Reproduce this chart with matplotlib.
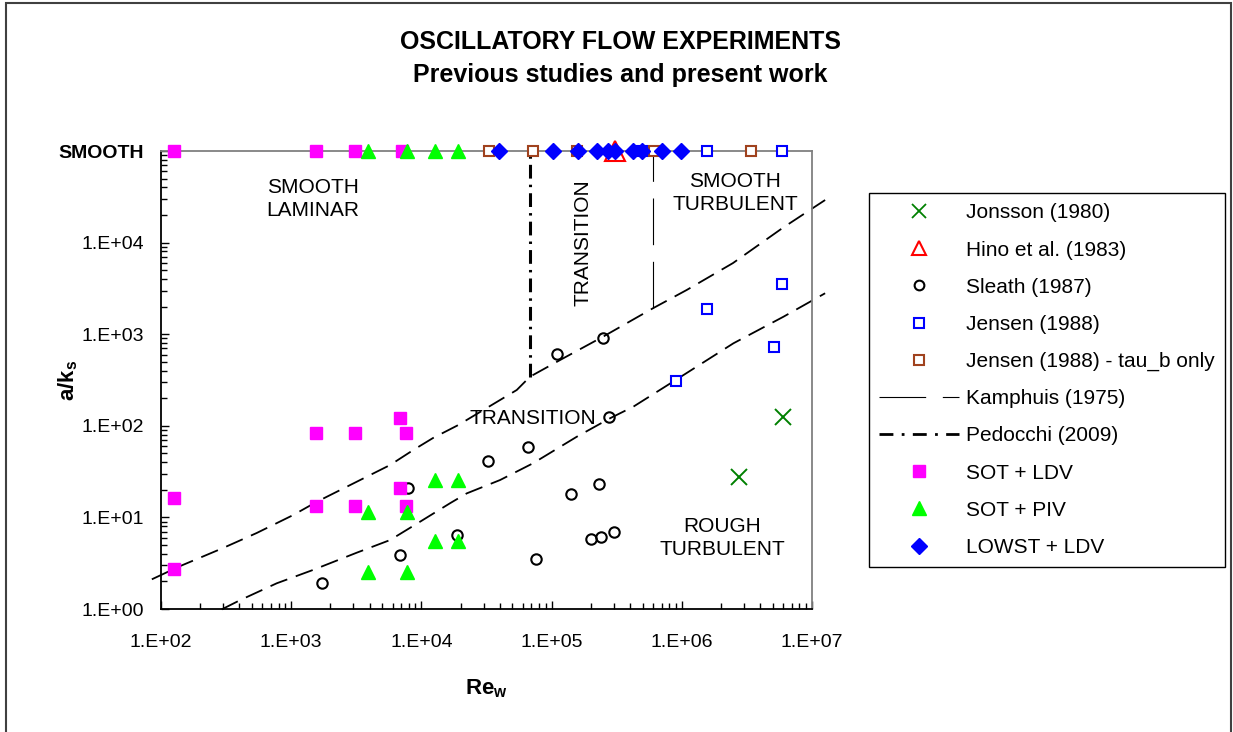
import matplotlib
matplotlib.use("Agg")
import matplotlib.pyplot as plt
from matplotlib.lines import Line2D
from matplotlib.patches import Rectangle
from matplotlib.ticker import NullFormatter

plt.rcParams.update({
    "font.family": ["Liberation Sans", "DejaVu Sans"],
    "mathtext.fontset": "custom",
    "mathtext.rm": "Liberation Sans",
    "mathtext.bf": "Liberation Sans:bold",
    "mathtext.it": "Liberation Sans:italic",
})

SMOOTH = 1e5  # "SMOOTH" row at top of the chart

# --- data (Re_w, a/ks) ---
sot_ldv_x = [126, 1549, 3090, 7080, 126, 126, 1549, 3090, 6840, 7590, 6840, 1549, 3090, 7590]
sot_ldv_y = [SMOOTH, SMOOTH, SMOOTH, SMOOTH, 16.3, 2.73, 83, 83, 123, 83, 21, 13.3, 13.3, 13.3]

sot_piv_x = [3870, 7740, 12700, 19100, 3870, 7740, 12700, 19100, 12700, 19100, 3870, 7740]
sot_piv_y = [SMOOTH, SMOOTH, SMOOTH, SMOOTH, 11.5, 11.5, 25.6, 25.6, 5.5, 5.5, 2.55, 2.55]

lowst_x = [39450, 102500, 159600, 223400, 271000, 306900, 421700, 494300, 704700, 986300]
lowst_y = [SMOOTH] * len(lowst_x)

jensen_tau_x = [33040, 71940, 156700, 610900, 3.40e6]
jensen_tau_y = [SMOOTH] * len(jensen_tau_x)

jensen_x = [494300, 1.56e6, 5.89e6, 5.89e6, 1.56e6, 5.13e6, 8.97e5]
jensen_y = [SMOOTH, SMOOTH, SMOOTH, 3530, 1885, 725, 311]

hino_x = [309000]
hino_y = [SMOOTH]

jonsson_x = [5.96e6, 2.77e6]
jonsson_y = [124, 27.8]

sleath_x = [1714, 6855, 7940, 18880, 32660, 66220, 75860, 110700, 140900,
            199500, 239300, 303400, 231200, 277300, 249500]
sleath_y = [1.94, 3.89, 20.8, 6.43, 41.6, 58, 3.49, 608, 17.9,
            5.77, 6.15, 6.98, 23, 124, 902]

# regime boundary curves
upper_x = [85, 140, 299, 543, 1033, 1570, 3000, 5740, 8670, 12270, 19190, 53950,
           68230, 115900, 248300, 601000, 1.09e6, 2.47e6, 5.98e6, 1.26e7]
upper_y = [2.11, 2.94, 4.63, 6.76, 10.6, 14.8, 23.5, 37.3, 54.5, 73.6, 102, 246,
           344, 522, 940, 1923, 3040, 5980, 14550, 29170]
lower_x = [292, 405, 774, 1469, 3184, 5740, 9750, 16600, 22280, 40180, 71940,
           156000, 281200, 424600, 855000, 2.49e6, 6.03e6, 1.26e7]
lower_y = [0.99, 1.25, 1.91, 2.67, 4.12, 5.66, 8.97, 14.3, 18.3, 25.6, 39.0,
           76.0, 121, 162, 303, 796, 1552, 2800]

pedocchi_x = [68230, 68230]
pedocchi_y = [344, SMOOTH]
kamphuis_x = [601000, 601000]
kamphuis_y = [1923, SMOOTH]

ytick_vals = [1, 10, 100, 1e3, 1e4, 1e5]
ytick_labels = ["1.E+00", "1.E+01", "1.E+02", "1.E+03", "1.E+04", "SMOOTH"]
xtick_vals = [1e2, 1e3, 1e4, 1e5, 1e6, 1e7]
xtick_labels = ["1.E+02", "1.E+03", "1.E+04", "1.E+05", "1.E+06", "1.E+07"]

fig = plt.figure(figsize=(12.33, 7.32), dpi=100)
ax = fig.add_axes([0.1306, 0.168, 0.528, 0.6257])
ax.set_xscale("log")
ax.set_yscale("log")
ax.set_xlim(1e2, 1e7)
ax.set_ylim(1, 1e5)

# boundary lines
ax.plot(upper_x, upper_y, color="black", lw=1.3, dashes=(10, 5), clip_on=False, zorder=2)
ax.plot(lower_x, lower_y, color="black", lw=1.3, dashes=(10, 5), clip_on=False, zorder=2)
ax.plot(pedocchi_x, pedocchi_y, color="black", lw=2.2, dashes=(4.5, 2, 0.8, 2), zorder=2)
ax.plot(kamphuis_x, kamphuis_y, color="black", lw=0.8, dashes=(42, 15), zorder=2)

# data series
ax.plot(jonsson_x, jonsson_y, ls="none", marker="x", ms=12, mew=1.4, color="#008000", zorder=4)
ax.plot(sleath_x, sleath_y, ls="none", marker="o", ms=7.5, mew=1.5, mfc="none", mec="black", zorder=4)
ax.plot(sot_ldv_x, sot_ldv_y, ls="none", marker="s", ms=8.5, color="#ff00ff", clip_on=False, zorder=4)
ax.plot(sot_piv_x, sot_piv_y, ls="none", marker="^", ms=10, color="#00ff00", clip_on=False, zorder=5)
ax.plot(jensen_tau_x, jensen_tau_y, ls="none", marker="s", ms=7.5, mew=1.5, mfc="white",
        mec="#a0421e", clip_on=False, zorder=4)
ax.plot(jensen_x, jensen_y, ls="none", marker="s", ms=7.5, mew=1.5, mfc="white",
        mec="#0000ff", clip_on=False, zorder=4)
ax.plot(hino_x, hino_y, ls="none", marker="^", ms=15, mew=1.5, mfc="none",
        mec="#ff0000", clip_on=False, zorder=5)
ax.plot(lowst_x, lowst_y, ls="none", marker="D", ms=8, color="#0000ff", clip_on=False, zorder=6)

# regime labels
txt = dict(fontsize=15, ha="center", va="center", transform=ax.transAxes, linespacing=1.25)
ax.text(0.2335, 0.895, "SMOOTH\nLAMINAR", **txt)
ax.text(0.648, 0.80, "TRANSITION", rotation=90, **txt)
ax.text(0.882, 0.908, "SMOOTH\nTURBULENT", **txt)
ax.text(0.571, 0.417, "TRANSITION", **txt)
ax.text(0.862, 0.155, "ROUGH\nTURBULENT", **txt)

# axes styling
ax.set_xticks(xtick_vals)
ax.set_xticklabels(xtick_labels)
ax.set_yticks(ytick_vals)
ax.set_yticklabels(ytick_labels)
ax.get_yticklabels()[-1].set_fontweight("bold")
ax.xaxis.set_minor_formatter(NullFormatter())
ax.yaxis.set_minor_formatter(NullFormatter())
ax.tick_params(which="both", direction="in", labelsize=14, width=1)
ax.tick_params(which="major", length=6)
ax.tick_params(which="minor", length=4)
ax.tick_params(axis="x", pad=18)
ax.tick_params(axis="y", pad=12)
ax.spines["left"].set_color("black")
ax.spines["bottom"].set_color("black")
ax.spines["top"].set_color("#808080")
ax.spines["right"].set_color("#808080")
for s in ax.spines.values():
    s.set_linewidth(1.3)

ax.set_xlabel(r"$\mathbf{Re_w}$", fontsize=16)
ax.set_ylabel(r"$\mathbf{a/k_s}$", fontsize=16)
ax.xaxis.set_label_coords(0.5, -0.15)
ax.yaxis.set_label_coords(-0.125, 0.5)

fig.text(0.503, 0.943, "OSCILLATORY FLOW EXPERIMENTS", fontsize=18, fontweight="bold",
         ha="center", va="center")
fig.text(0.503, 0.898, "Previous studies and present work", fontsize=18, fontweight="bold",
         ha="center", va="center")

# legend
handles = [
    Line2D([], [], ls="none", marker="x", ms=10, mew=1.3, color="#008000"),
    Line2D([], [], ls="none", marker="^", ms=10, mew=1.5, mfc="none", mec="#ff0000"),
    Line2D([], [], ls="none", marker="o", ms=7, mew=1.5, mfc="none", mec="black"),
    Line2D([], [], ls="none", marker="s", ms=7.5, mew=1.5, mfc="white", mec="#0000ff"),
    Line2D([], [], ls="none", marker="s", ms=7.5, mew=1.5, mfc="white", mec="#a0421e"),
    Line2D([], [], color="black", lw=0.8, dashes=(42, 15)),
    Line2D([], [], color="black", lw=2.0, dashes=(5, 3, 1, 3)),
    Line2D([], [], ls="none", marker="s", ms=8.5, color="#ff00ff"),
    Line2D([], [], ls="none", marker="^", ms=10, color="#00ff00"),
    Line2D([], [], ls="none", marker="D", ms=8, color="#0000ff"),
]
labels = ["Jonsson (1980)", "Hino et al. (1983)", "Sleath (1987)", "Jensen (1988)",
          "Jensen (1988) - tau_b only", "Kamphuis (1975)", "Pedocchi (2009)",
          "SOT + LDV", "SOT + PIV", "LOWST + LDV"]
leg = fig.legend(handles, labels, loc="upper left", bbox_to_anchor=(0.7048, 0.7363),
                 fontsize=15, frameon=True, fancybox=False, framealpha=1,
                 edgecolor="black", handlelength=3.8, handletextpad=0.35,
                 labelspacing=0.87, borderpad=0.5, borderaxespad=0)
leg.get_frame().set_linewidth(1.0)

# chart-area border
fig.patches.append(Rectangle((6 / 1233, -0.02), 1225 / 1233, 1.02 - 3 / 732,
                             transform=fig.transFigure, fill=False,
                             edgecolor="#404040", lw=1.5))

fig.savefig("out.png", dpi=100)
